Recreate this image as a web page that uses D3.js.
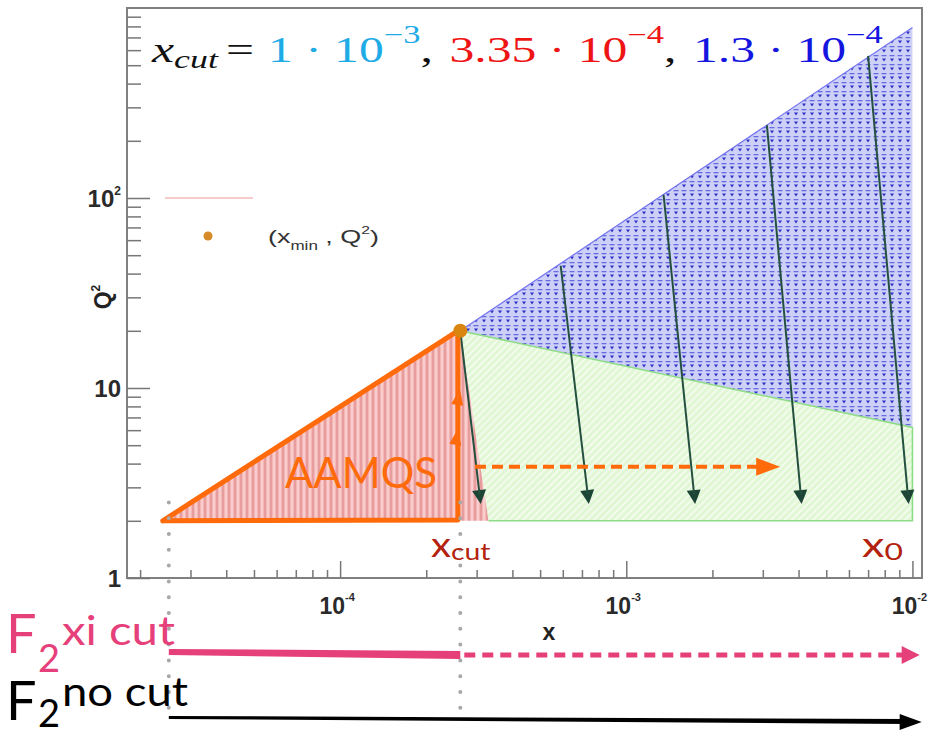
<!DOCTYPE html>
<html>
<head>
<meta charset="utf-8">
<title>x cut in the (x, Q2) plane</title>
<style>
body { margin: 0; background: #fff; }
svg { display: block; }
.tick line { stroke: #777; stroke-width: 1.5; }
</style>
</head>
<body>
<script src="https://d3js.org/d3.v7.min.js"></script>
<script>

// ---- data (x, Q2) ----
var titleMantissa = ["1", "3.35", "1.3"];
var titleExponent = ["\u22123", "\u22124", "\u22124"];
var titleColors = ["#1eabe6", "#ee1414", "#1515e0"];

var xMajor = [1e-4, 1e-3, 1e-2];
var xMajorExp = ["-4", "-3", "-2"];
var yMajor = [1, 10, 100];
var yMajorBase = ["1", "10", "10"];
var yMajorExp = ["", "", "2"];

var xminPoint = [2.63e-4, 20];
var redRegion = [[2.4e-5, 2], [2.63e-4, 20], [3.3e-4, 2]];
var greenRegion = [[2.63e-4, 20], [1e-2, 6.2], [1e-2, 2], [3.3e-4, 2]];
var blueRegion = [[2.63e-4, 20], [1e-2, 790], [1e-2, 6.2]];
var arrowStart = [[2.63e-4, 20], [5.9e-4, 44], [1.35e-3, 104], [3.1e-3, 242], [7.0e-3, 560]];
var arrowEnd = [[3.1e-4, 2.45], [7.4e-4, 2.45], [1.74e-3, 2.45], [4.1e-3, 2.45], [9.7e-3, 2.45]];

var aamqsOutline = [[2.4e-5, 2], [2.58e-4, 20], [2.58e-4, 2.02], [2.4e-5, 2]];
var aamqsMarks = [[2.6e-4, 9.4], [2.56e-4, 5.8]];
var aamqsShift = [[2.96e-4, 3.85], [3.45e-3, 3.85]];

var xminLine = 2.52e-5;
var xcutLine = 2.63e-4;
var xEnd = 1.06e-2;

// ---- set up ----
var W = 935, H = 737;
var x = d3.scaleLog().domain([1.8e-5, 1.08e-2]).range([127, 922]);
var y = d3.scaleLog().domain([1, 1000]).range([578, 8]);

var svg = d3.select("body").append("svg")
    .attr("width", W)
    .attr("height", H);

var defs = svg.append("defs");

// blue dotted fill
var pb = defs.append("pattern").attr("id", "pBlue")
    .attr("patternUnits", "userSpaceOnUse").attr("width", 8).attr("height", 9);
pb.append("rect").attr("width", 8).attr("height", 9).attr("fill", "#cdd1f7");
pb.append("rect").attr("x", 1.5).attr("y", 1).attr("width", 5).attr("height", 1.3).attr("fill", "#6a6ae0");
pb.append("path").attr("d", "M2,4.6L6,4.6L4,7.6Z").attr("fill", "#3030c6");

// green hatch
var pg = defs.append("pattern").attr("id", "pGreen")
    .attr("patternUnits", "userSpaceOnUse").attr("width", 5).attr("height", 5)
    .attr("patternTransform", "rotate(-45)");
pg.append("rect").attr("width", 5).attr("height", 5).attr("fill", "#e0f7d4");
pg.append("line").attr("x1", 0).attr("y1", 2.5).attr("x2", 5).attr("y2", 2.5)
    .attr("stroke", "#f8fdf5").attr("stroke-width", 1.6);

// red vertical stripes
var pr = defs.append("pattern").attr("id", "pRed")
    .attr("patternUnits", "userSpaceOnUse").attr("width", 6).attr("height", 10);
pr.append("rect").attr("width", 6).attr("height", 10).attr("fill", "#f5b6b6");
pr.append("line").attr("x1", 1).attr("y1", 0).attr("x2", 1).attr("y2", 10)
    .attr("stroke", "#de8d8d").attr("stroke-width", 1.2);
pr.append("line").attr("x1", 4).attr("y1", 0).attr("x2", 4).attr("y2", 10)
    .attr("stroke", "#fbe4e4").attr("stroke-width", 1);

var line = d3.line().x(function(d) { return x(d[0]); }).y(function(d) { return y(d[1]); });

// regions
svg.append("path").attr("d", line(blueRegion) + "Z").attr("fill", "url(#pBlue)");
svg.append("path").attr("d", line(greenRegion) + "Z").attr("fill", "url(#pGreen)");
svg.append("path").attr("d", line(redRegion) + "Z").attr("fill", "url(#pRed)");

svg.append("path").attr("d", line(blueRegion.slice(0, 2)))
    .attr("fill", "none").attr("stroke", "#7272f0").attr("stroke-width", 1.2);
svg.append("path").attr("d", line(greenRegion))
    .attr("fill", "none").attr("stroke", "#8edc86").attr("stroke-width", 1.6);

// helper: filled arrow head at (x2,y2) coming from (x1,y1)
function arrowHead(g, x1, y1, x2, y2, len, half, color) {
  var a = Math.atan2(y2 - y1, x2 - x1);
  var bx = x2 - len * Math.cos(a), by = y2 - len * Math.sin(a);
  var nx = -Math.sin(a) * half, ny = Math.cos(a) * half;
  g.append("path")
    .attr("d", "M" + x2 + "," + y2 + "L" + (bx + nx) + "," + (by + ny) + "L" + (bx - nx) + "," + (by - ny) + "Z")
    .attr("fill", color);
  return [bx + 0.3 * len * Math.cos(a), by + 0.3 * len * Math.sin(a)];
}

// dark evolution arrows
var ga = svg.append("g");
arrowStart.forEach(function(s, i) {
  var e = arrowEnd[i];
  var x1 = x(s[0]), y1 = y(s[1]), x2 = x(e[0]), y2 = y(e[1]);
  var b = arrowHead(ga, x1, y1, x2, y2, 14, 7, "#1c4536");
  ga.append("line").attr("x1", x1).attr("y1", y1).attr("x2", b[0]).attr("y2", b[1])
    .attr("stroke", "#24503f").attr("stroke-width", 2);
});

// AAMQS outline in orange
var orange = "#ff6a0a";
svg.append("path").attr("d", line(aamqsOutline))
    .attr("fill", "none").attr("stroke", orange).attr("stroke-width", 5)
    .attr("stroke-linejoin", "round").attr("stroke-linecap", "round");
aamqsMarks.forEach(function(m) {
  var cx = x(m[0]), cy = y(m[1]);
  arrowHead(svg, cx - 2, cy + 14, cx + 1, cy - 4, 16, 6, orange);
});

// dashed orange shift arrow
var s0 = aamqsShift[0], s1 = aamqsShift[1];
var sb = arrowHead(svg, x(s0[0]), y(s0[1]), x(s1[0]), y(s1[1]), 24, 9, orange);
svg.append("line").attr("x1", x(s0[0])).attr("y1", y(s0[1])).attr("x2", sb[0]).attr("y2", y(s1[1]))
    .attr("stroke", orange).attr("stroke-width", 4).attr("stroke-dasharray", "11 6");

// stretch a text so it spans a given width (bbox includes dx shifts)
function fit(t, width) {
  var len = t.node().getBBox().width;
  var tr = t.attr("transform") || "";
  t.attr("transform", tr + " scale(" + (width / len) + ",1)");
}

var aam = svg.append("text").attr("transform", "translate(285,488)")
    .attr("font-family", "Lato").attr("font-size", 43).attr("fill", orange).text("AAMQS");
fit(aam, 152);

// (x_min, Q2) point
svg.append("circle").attr("cx", x(xminPoint[0])).attr("cy", y(xminPoint[1])).attr("r", 7)
    .attr("fill", "#d8860f");

// dotted guides
[xminLine, xcutLine].forEach(function(v) {
  svg.append("line").attr("x1", x(v)).attr("x2", x(v)).attr("y1", y(2.5)).attr("y2", 716)
    .attr("stroke", "#a8a8a8").attr("stroke-width", 4).attr("stroke-linecap", "round")
    .attr("stroke-dasharray", "0 15.8");
});

// frame
svg.append("rect").attr("x", 127).attr("y", 8).attr("width", 795).attr("height", 570)
    .attr("fill", "none").attr("stroke", "#808080").attr("stroke-width", 2);

// axes (ticks point inside)
var xMinor = x.ticks().filter(function(v) { return xMajor.indexOf(v) < 0; });
var yMinor = y.ticks().filter(function(v) { return yMajor.indexOf(v) < 0 && v < 1000; });

svg.append("g").attr("transform", "translate(0,578)")
    .call(d3.axisBottom(x).tickValues(xMinor).tickSize(-8).tickSizeOuter(0).tickFormat(""));
svg.append("g").attr("transform", "translate(0,578)")
    .call(d3.axisBottom(x).tickValues(xMajor).tickSize(-17).tickSizeOuter(0).tickFormat(""));
svg.append("g").attr("transform", "translate(127,0)")
    .call(d3.axisLeft(y).tickValues(yMinor).tickSize(-14).tickSizeOuter(0).tickFormat(""));
svg.append("g").attr("transform", "translate(127,0)")
    .call(d3.axisLeft(y).tickValues(yMajor).tickSize(-23).tickSizeOuter(0).tickFormat(""));
svg.selectAll(".domain").remove();

// tick labels
xMajor.forEach(function(v, i) {
  var t = svg.append("text").attr("x", x(v) - 3).attr("y", 614)
      .attr("text-anchor", "middle").attr("font-family", "Liberation Sans")
      .attr("font-weight", "bold").attr("font-size", 23).attr("fill", "#2a2a2a");
  t.append("tspan").text("10");
  t.append("tspan").attr("font-size", 11).attr("dy", -13).text(xMajorExp[i]);
});
yMajor.forEach(function(v, i) {
  var t = svg.append("text").attr("x", 121).attr("y", y(v) + 9)
      .attr("text-anchor", "end").attr("font-family", "Liberation Sans")
      .attr("font-weight", "bold").attr("font-size", 24).attr("fill", "#2a2a2a");
  t.append("tspan").text(yMajorBase[i]);
  if (yMajorExp[i]) t.append("tspan").attr("font-size", 12).attr("dy", -12).text(yMajorExp[i]);
});

// axis titles
svg.append("text").attr("x", 549).attr("y", 640).attr("text-anchor", "middle")
    .attr("font-family", "Liberation Sans").attr("font-weight", "bold").attr("font-size", 23)
    .attr("fill", "#222").text("x");
var qt = svg.append("text").attr("transform", "translate(111,297) rotate(-90)")
    .attr("text-anchor", "middle").attr("font-family", "Liberation Sans")
    .attr("font-weight", "bold").attr("font-size", 23).attr("fill", "#222");
qt.append("tspan").text("Q");
qt.append("tspan").attr("font-size", 12).attr("dy", -11).text("2");

// legend
svg.append("line").attr("x1", 165).attr("x2", 253).attr("y1", 198).attr("y2", 198)
    .attr("stroke", "#f29a9a").attr("stroke-width", 1.2);
svg.append("circle").attr("cx", 208).attr("cy", 236).attr("r", 4.5).attr("fill", "#d68a28");
var lg = svg.append("text").attr("transform", "translate(268,243)")
    .attr("font-family", "Liberation Sans").attr("font-size", 19).attr("fill", "#333");
lg.append("tspan").text("(x");
lg.append("tspan").attr("font-size", 12).attr("dy", 7).text("min");
lg.append("tspan").attr("dy", -7).text(" , Q");
lg.append("tspan").attr("font-size", 11).attr("dy", -9).text("2");
lg.append("tspan").attr("dy", 9).text(")");
fit(lg, 111);

// title: x_cut = ...
var tt = svg.append("text").attr("transform", "translate(152,62)")
    .attr("font-family", "Liberation Serif").attr("font-size", 36).attr("fill", "#111");
tt.append("tspan").attr("font-style", "italic").text("x");
tt.append("tspan").attr("font-style", "italic").attr("font-size", 26).attr("dy", 6).text("cut");
tt.append("tspan").attr("dy", -6).attr("dx", 6).text("=");
titleMantissa.forEach(function(m, i) {
  tt.append("tspan").attr("dx", i ? 12 : 10).attr("fill", titleColors[i]).text(m + " \u00b7 10");
  tt.append("tspan").attr("fill", titleColors[i]).attr("font-size", 25).attr("dy", -19).text(titleExponent[i]);
  tt.append("tspan").attr("dy", 19).text(i < titleMantissa.length - 1 ? "," : "");
});
fit(tt, 733);

// x_cut and x0 labels
var red = "#b3220c";
function subLabel(px, main, sub, width) {
  var t = svg.append("text").attr("transform", "translate(" + px + ",557)")
      .attr("font-family", "Lato").attr("font-size", 34).attr("fill", red);
  t.append("tspan").text(main);
  t.append("tspan").attr("font-size", 24).attr("dy", 3).text(sub);
  fit(t, width);
}
subLabel(431, "x", "cut", 60);
subLabel(862, "x", "0", 41);

// F2 rows
function f2Label(baseline, subBase, supBase, sup, color, supWidth) {
  svg.append("text").attr("x", 6).attr("y", baseline)
      .attr("font-family", "Lato").attr("font-size", 54).attr("fill", color).text("F");
  svg.append("text").attr("x", 38).attr("y", subBase)
      .attr("font-family", "Lato").attr("font-size", 38).attr("fill", color).text("2");
  var s = svg.append("text").attr("transform", "translate(62," + supBase + ")")
      .attr("font-family", "Lato").attr("font-size", 40).attr("fill", color).text(sup);
  fit(s, supWidth);
}
var pink = "#e6407b";
f2Label(653, 672, 645, "xi cut", pink, 113);
f2Label(720, 727, 706, "no cut", "#000", 126);

// pink: solid up to x_cut, dashed beyond
svg.append("path")
    .attr("d", "M" + x(xminLine) + ",649L" + x(xcutLine) + ",651L" + x(xcutLine) + ",659L" + x(xminLine) + ",655Z")
    .attr("fill", pink);
var pbk = arrowHead(svg, x(xcutLine) + 4, 655, x(xEnd), 655, 18, 9, pink);
svg.append("line").attr("x1", x(xcutLine) + 4).attr("x2", pbk[0]).attr("y1", 655).attr("y2", 655)
    .attr("stroke", pink).attr("stroke-width", 5).attr("stroke-dasharray", "11 7");

// black: full range
svg.append("path")
    .attr("d", "M" + x(xminLine) + ",716L" + (x(xEnd) - 12) + ",719L" + (x(xEnd) - 12) + ",724L" + x(xminLine) + ",719Z")
    .attr("fill", "#000");
arrowHead(svg, x(xminLine), 718, x(xEnd) + 2, 722, 22, 8, "#000");

</script>
</body>
</html>
